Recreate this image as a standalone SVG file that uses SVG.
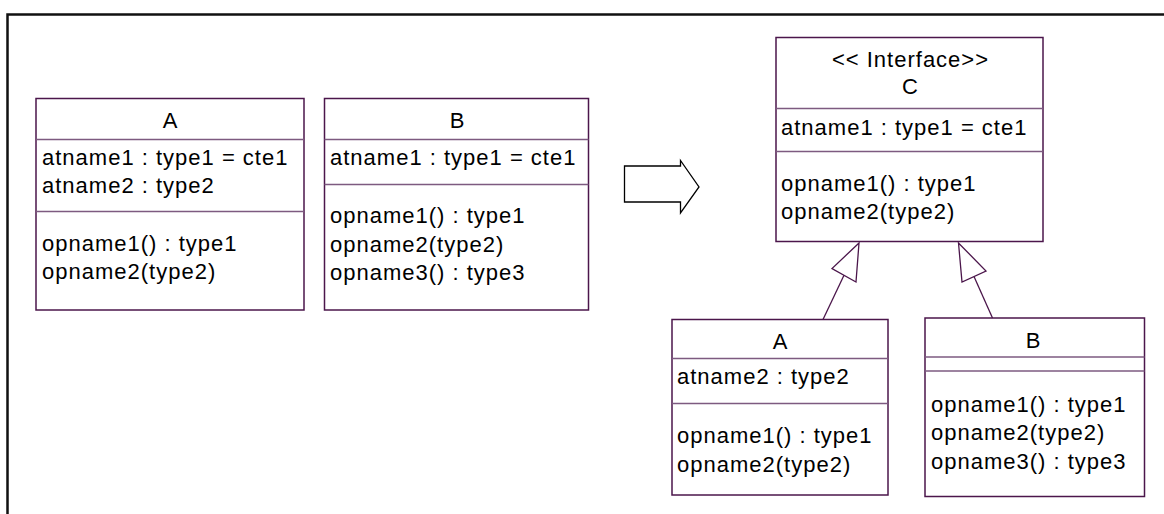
<svg xmlns="http://www.w3.org/2000/svg" width="1164" height="514" viewBox="0 0 1164 514">
<style>
text{font-family:"Liberation Sans",Arial,sans-serif;font-size:22px;letter-spacing:1px;fill:#000}
.c{text-anchor:middle}
.box{fill:#fff;stroke:#4b164b;stroke-width:1.5}
.div{stroke:#7d5a80;stroke-width:1.5}
.gen{fill:#fff;stroke:#4b164b;stroke-width:1.3}
.ln{stroke:#4b164b;stroke-width:1.3;fill:none}
</style>
<rect width="1164" height="514" fill="#fff"/>
<path d="M7.5,514 V14.5 H1164" fill="none" stroke="#111" stroke-width="2.5"/>

<g id="A">
<rect class="box" x="36" y="98.5" width="268" height="211.5"/>
<line class="div" x1="36" y1="139.5" x2="304" y2="139.5"/>
<line class="div" x1="36" y1="211.5" x2="304" y2="211.5"/>
<text class="c" x="170.5" y="128">A</text>
<text x="42" y="165">atname1 : type1 = cte1</text>
<text x="42" y="193">atname2 : type2</text>
<text x="42" y="251">opname1() : type1</text>
<text x="42" y="279">opname2(type2)</text>
</g>

<g id="B">
<rect class="box" x="324.5" y="98.5" width="264" height="211.5"/>
<line class="div" x1="324.5" y1="139.5" x2="588.5" y2="139.5"/>
<line class="div" x1="324.5" y1="184.5" x2="588.5" y2="184.5"/>
<text class="c" x="457.5" y="128">B</text>
<text x="330" y="165">atname1 : type1 = cte1</text>
<text x="330" y="223">opname1() : type1</text>
<text x="330" y="251.5">opname2(type2)</text>
<text x="330" y="280">opname3() : type3</text>
</g>

<g id="transform">
<path d="M624.5,166 H680.5 V160.5 L699,187 L680.5,213 V202 H624.5 Z" fill="#fff" stroke="#000" stroke-width="1.3"/>
</g>

<g id="C">
<rect class="box" x="776" y="37.5" width="267" height="204"/>
<line class="div" x1="776" y1="108.5" x2="1043" y2="108.5"/>
<line class="div" x1="776" y1="151.5" x2="1043" y2="151.5"/>
<text class="c" x="910.5" y="67">&lt;&lt; Interface&gt;&gt;</text>
<text class="c" x="910.5" y="94">C</text>
<text x="781" y="135">atname1 : type1 = cte1</text>
<text x="781" y="190.5">opname1() : type1</text>
<text x="781" y="219">opname2(type2)</text>
</g>

<g id="A2">
<rect class="box" x="672" y="319.5" width="216" height="175.5"/>
<line class="div" x1="672" y1="358.5" x2="888" y2="358.5"/>
<line class="div" x1="672" y1="403.5" x2="888" y2="403.5"/>
<text class="c" x="780.5" y="349">A</text>
<text x="677" y="384">atname2 : type2</text>
<text x="677" y="443">opname1() : type1</text>
<text x="677" y="471.5">opname2(type2)</text>
</g>

<g id="B2">
<rect class="box" x="925" y="318" width="219.5" height="178.5"/>
<line class="div" x1="925" y1="357" x2="1144.5" y2="357"/>
<line class="div" x1="925" y1="371" x2="1144.5" y2="371"/>
<text class="c" x="1033.5" y="347.5">B</text>
<text x="931" y="411.5">opname1() : type1</text>
<text x="931" y="440">opname2(type2)</text>
<text x="931" y="468.5">opname3() : type3</text>
</g>

<g id="connectors">
<line class="ln" x1="844" y1="275.3" x2="823" y2="319.5"/>
<polygon class="gen" points="859,243 832,268.5 856,282"/>
<line class="ln" x1="974" y1="276.5" x2="992.5" y2="318"/>
<polygon class="gen" points="958.5,243 962,282 986,271"/>
</g>
</svg>
